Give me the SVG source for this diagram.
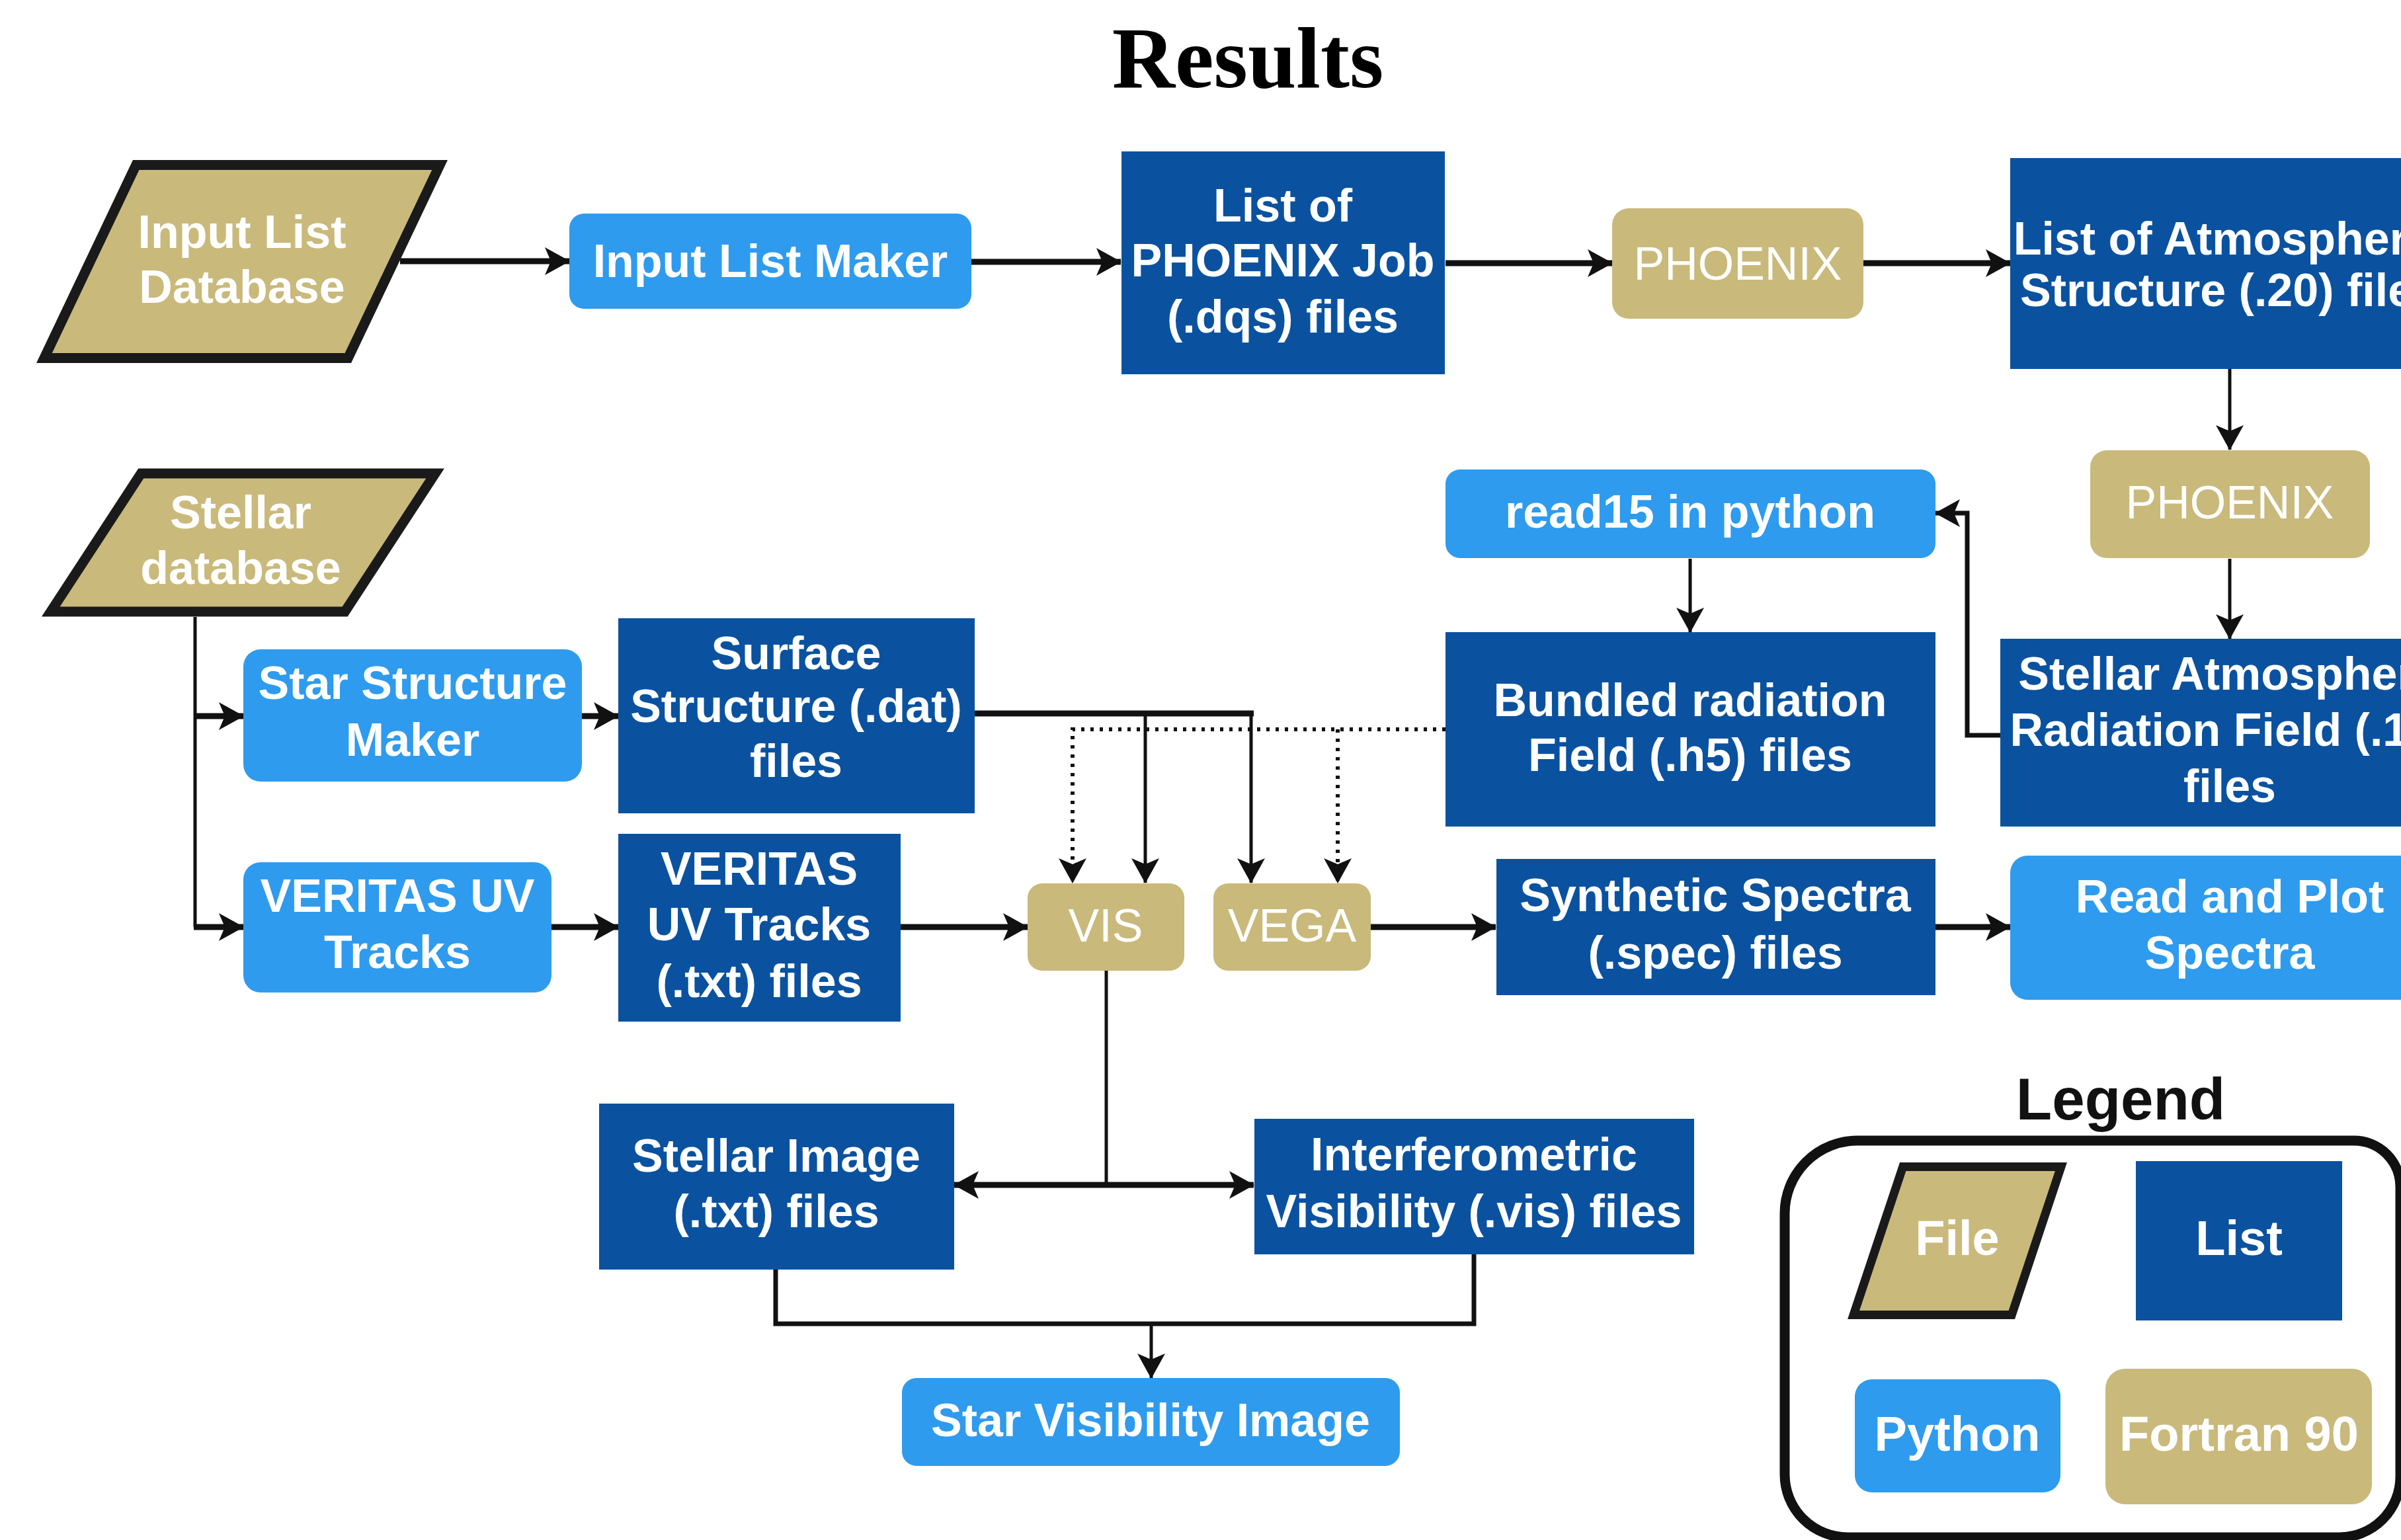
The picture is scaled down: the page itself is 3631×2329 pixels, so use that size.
<svg xmlns="http://www.w3.org/2000/svg" width="3631" height="2329" viewBox="0 0 3631 2329">
<defs>
<style>
.file{fill:#C9B97B;stroke:#1a1a1a;stroke-width:15}
.list{fill:#0A52A0}
.py{fill:#2E9BEE}
.ft{fill:#C9B97B}
.t{font-family:"Liberation Sans",Arial,sans-serif;font-weight:bold;font-size:70px;fill:#fff;text-anchor:middle}
.tr{font-weight:normal}
.lg{font-size:74px}
.c{fill:none;stroke:#111;stroke-width:9}
.cm{fill:none;stroke:#111;stroke-width:7}
.cn{fill:none;stroke:#111;stroke-width:5}
.d{fill:none;stroke:#111;stroke-width:6;stroke-dasharray:5 9}
</style>
<marker id="ah" markerUnits="userSpaceOnUse" markerWidth="40" markerHeight="42" viewBox="0 0 38 42" refX="37" refY="21" orient="auto"><path d="M0,0 L38,21 L0,42 L9,21 z" fill="#111"/></marker>
</defs>
<rect width="3631" height="2329" fill="#fff"/>
<text x="1887" y="132" font-family="Liberation Serif,'Times New Roman',serif" font-weight="bold" font-size="132" text-anchor="middle" fill="#000">Results</text>

<g id="connectors">
<path class="c" d="M605,395 H861" marker-end="url(#ah)"/>
<path class="c" d="M1469,396 H1695" marker-end="url(#ah)"/>
<path class="c" d="M2186,398 H2438" marker-end="url(#ah)"/>
<path class="c" d="M2818,398 H3040" marker-end="url(#ah)"/>
<path class="cn" d="M3372,558 V680" marker-end="url(#ah)"/>
<path class="cn" d="M3372,845 V966" marker-end="url(#ah)"/>
<path class="cm" d="M3025,1112 H2975 V776 H2927" marker-end="url(#ah)"/>
<path class="cn" d="M2556,845 V956" marker-end="url(#ah)"/>
<path class="cn" d="M295,933 V1402"/>
<path class="c" d="M293,1083 H368" marker-end="url(#ah)"/>
<path class="c" d="M293,1402 H368" marker-end="url(#ah)"/>
<path class="c" d="M880,1083 H935" marker-end="url(#ah)"/>
<path class="c" d="M834,1402 H935" marker-end="url(#ah)"/>
<path class="c" d="M1361,1402 H1554" marker-end="url(#ah)"/>
<path class="c" d="M2073,1402 H2262" marker-end="url(#ah)"/>
<path class="c" d="M2927,1402 H3040" marker-end="url(#ah)"/>
<path class="c" d="M1474,1079 H1896"/>
<path class="cn" d="M1732,1079 V1335" marker-end="url(#ah)"/>
<path class="cn" d="M1892,1079 V1335" marker-end="url(#ah)"/>
<path class="d" d="M2186,1103 H1622 V1335" marker-end="url(#ah)"/>
<path class="d" d="M2023,1103 V1335" marker-end="url(#ah)"/>
<path class="cn" d="M1673,1468 V1792"/>
<path class="c" d="M1675,1792 H1443" marker-end="url(#ah)"/>
<path class="c" d="M1675,1792 H1896" marker-end="url(#ah)"/>
<path class="cm" d="M1173,1920 V2002 H2229 V1897"/>
<path class="cn" d="M1741,2002 V2084" marker-end="url(#ah)"/>
</g>

<g id="input-list-database">
<polygon class="file" points="205.7,249.5 665.1,249.5 526.3,541.5 66.9,541.5"/>
<text class="t" x="366" y="375">Input List</text>
<text class="t" x="366" y="458">Database</text>
</g>
<g id="input-list-maker">
<rect class="py" x="861" y="323" width="608" height="144" rx="22"/>
<text class="t" x="1165" y="419">Input List Maker</text>
</g>
<g id="list-phoenix-job">
<rect class="list" x="1696" y="229" width="489" height="337"/>
<text class="t" x="1940" y="335">List of</text>
<text class="t" x="1940" y="418">PHOENIX Job</text>
<text class="t" x="1940" y="503">(.dqs) files</text>
</g>
<g id="phoenix-1">
<rect class="ft" x="2438" y="315" width="380" height="167" rx="25"/>
<text class="t tr" x="2628" y="423">PHOENIX</text>
</g>
<g id="list-atmospheric-structure">
<rect class="list" x="3040" y="239" width="664" height="319"/>
<text class="t" x="3372" y="385">List of Atmospheric</text>
<text class="t" x="3372" y="463">Structure (.20) files</text>
</g>
<g id="phoenix-2">
<rect class="ft" x="3161" y="681" width="423" height="163" rx="25"/>
<text class="t tr" x="3372" y="784">PHOENIX</text>
</g>
<g id="read15">
<rect class="py" x="2186" y="710" width="741" height="134" rx="22"/>
<text class="t" x="2556" y="798">read15 in python</text>
</g>
<g id="bundled-radiation">
<rect class="list" x="2186" y="956" width="741" height="294"/>
<text class="t" x="2556" y="1083">Bundled radiation</text>
<text class="t" x="2556" y="1166">Field (.h5) files</text>
</g>
<g id="stellar-atmosphere">
<rect class="list" x="3025" y="966" width="694" height="284"/>
<text class="t" x="3372" y="1043">Stellar Atmosphere</text>
<text class="t" x="3372" y="1128">Radiation Field (.15)</text>
<text class="t" x="3372" y="1213">files</text>
</g>
<g id="stellar-database">
<polygon class="file" points="213.3,716 658.1,716 521.6,925 76.8,925"/>
<text class="t" x="364" y="799">Stellar</text>
<text class="t" x="364" y="883">database</text>
</g>
<g id="star-structure-maker">
<rect class="py" x="368" y="982" width="512" height="200" rx="26"/>
<text class="t" x="624" y="1057">Star Structure</text>
<text class="t" x="624" y="1143">Maker</text>
</g>
<g id="surface-structure">
<rect class="list" x="935" y="935" width="539" height="295"/>
<text class="t" x="1204" y="1012">Surface</text>
<text class="t" x="1204" y="1092">Structure (.dat)</text>
<text class="t" x="1204" y="1175">files</text>
</g>
<g id="veritas-uv-tracks-maker">
<rect class="py" x="368" y="1304" width="466" height="197" rx="26"/>
<text class="t" x="601" y="1379">VERITAS UV</text>
<text class="t" x="601" y="1464">Tracks</text>
</g>
<g id="veritas-uv-tracks-files">
<rect class="list" x="935" y="1261" width="427" height="284"/>
<text class="t" x="1148" y="1338">VERITAS</text>
<text class="t" x="1148" y="1422">UV Tracks</text>
<text class="t" x="1148" y="1508">(.txt) files</text>
</g>
<g id="vis">
<rect class="ft" x="1554" y="1336" width="237" height="132" rx="22"/>
<text class="t tr" x="1672" y="1424">VIS</text>
</g>
<g id="vega">
<rect class="ft" x="1835" y="1336" width="238" height="132" rx="22"/>
<text class="t tr" x="1954" y="1424">VEGA</text>
</g>
<g id="synthetic-spectra">
<rect class="list" x="2263" y="1299" width="664" height="206"/>
<text class="t" x="2594" y="1378">Synthetic Spectra</text>
<text class="t" x="2594" y="1465">(.spec) files</text>
</g>
<g id="read-plot-spectra">
<rect class="py" x="3040" y="1294" width="664" height="218" rx="26"/>
<text class="t" x="3372" y="1380">Read and Plot</text>
<text class="t" x="3372" y="1465">Spectra</text>
</g>
<g id="stellar-image">
<rect class="list" x="906" y="1669" width="537" height="251"/>
<text class="t" x="1174" y="1772">Stellar Image</text>
<text class="t" x="1174" y="1856">(.txt) files</text>
</g>
<g id="interferometric-visibility">
<rect class="list" x="1897" y="1692" width="665" height="205"/>
<text class="t" x="2229" y="1770">Interferometric</text>
<text class="t" x="2229" y="1856">Visibility (.vis) files</text>
</g>
<g id="star-visibility-image">
<rect class="py" x="1364" y="2084" width="753" height="133" rx="22"/>
<text class="t" x="1740" y="2172">Star Visibility Image</text>
</g>

<g id="legend">
<text x="3207" y="1693" font-family="Liberation Sans,Arial,sans-serif" font-weight="bold" font-size="89" text-anchor="middle" fill="#111">Legend</text>
<path d="M2809,1725 H3560 A70,70 0 0 1 3630,1795 V2233 A92,92 0 0 1 3538,2325 H2794 A95,95 0 0 1 2699,2230 V1835 A110,110 0 0 1 2809,1725 Z" fill="none" stroke="#111" stroke-width="15"/>
<polygon points="2877.7,1764.5 3116.9,1764.5 3042.3,1988.5 2803.1,1988.5" fill="#C9B97B" stroke="#1a1a1a" stroke-width="13"/>
<text class="t lg" x="2960" y="1898">File</text>
<rect class="list" x="3230" y="1756" width="312" height="241"/>
<text class="t lg" x="3386" y="1898">List</text>
<rect class="py" x="2805" y="2086" width="311" height="171" rx="26"/>
<text class="t lg" x="2960" y="2194">Python</text>
<rect class="ft" x="3184" y="2070" width="403" height="205" rx="30"/>
<text class="t lg" x="3386" y="2194">Fortran 90</text>
</g>
</svg>
